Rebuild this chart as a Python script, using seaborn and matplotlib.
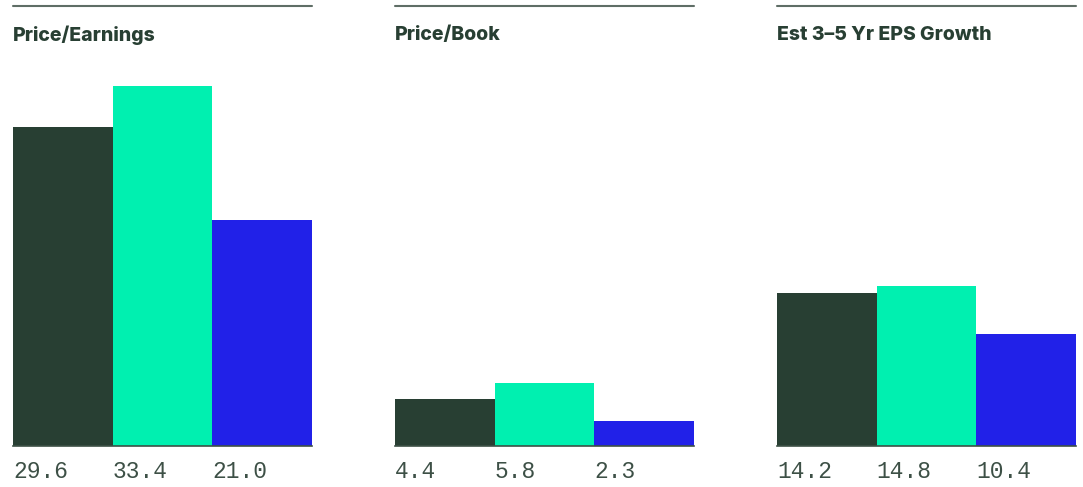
import matplotlib
matplotlib.use("Agg")
import matplotlib.pyplot as plt
import matplotlib.transforms as mtransforms
import seaborn as sns

titles = ["Price/Earnings", "Price/Book", "Est 3\u20135 Yr EPS Growth"]
groups = ["A", "B", "C"]
pe_values = [29.6, 33.4, 21.0]
pb_values = [4.4, 5.8, 2.3]
eps_values = [14.2, 14.8, 10.4]
value_labels = [["29.6", "33.4", "21.0"], ["4.4", "5.8", "2.3"], ["14.2", "14.8", "10.4"]]
palette = ["#283f33", "#00f0b0", "#2121e8"]

sns.set_theme(style="white")
plt.rcParams["font.family"] = ["Inter", "DejaVu Sans"]

W, H = 1083, 487
fig = plt.figure(figsize=(W / 100, H / 100), dpi=100)

lefts_px = [13, 395, 777]
width_px = 299
base_px = 446
top_px = 86
ymax = 33.4

for i, (title, vals) in enumerate(zip(titles, [pe_values, pb_values, eps_values])):
    l = lefts_px[i] / W
    w = width_px / W
    b = (H - base_px) / H
    h = (base_px - top_px) / H
    ax = fig.add_axes([l, b, w, h])
    sns.barplot(x=groups, y=vals, hue=groups, palette=palette, width=1.0,
                legend=False, ax=ax, saturation=1)
    ax.set_xlim(-0.5, 2.5)
    ax.set_ylim(0, ymax)
    ax.set_xticks([])
    ax.set_yticks([])
    ax.set_xlabel("")
    ax.set_ylabel("")
    for s in ["top", "left", "right"]:
        ax.spines[s].set_visible(False)
    ax.spines["bottom"].set_color("#3d5046")
    ax.spines["bottom"].set_linewidth(1.2)
    for p in ax.patches:
        p.set_edgecolor("none")
        p.set_linewidth(0)
    trans = mtransforms.blended_transform_factory(ax.transData, ax.transAxes)
    for j, lab in enumerate(value_labels[i]):
        ax.text(j - 0.5, -(472 - base_px) / (base_px - top_px), lab, transform=trans,
                ha="left", va="center", fontsize=16.5, color="#3d5046",
                family=["Liberation Mono", "DejaVu Sans Mono"], clip_on=False)
    # top rule
    fig.add_artist(plt.Line2D([l, l + w], [1 - 6 / H, 1 - 6 / H], color="#5f6e66",
                              linewidth=1.5, transform=fig.transFigure))
    fig.text(l, 1 - 35 / H, title, ha="left", va="center", fontsize=14,
             fontweight="heavy", color="#283f33")

fig.savefig("out.png", dpi=100, facecolor="white")
